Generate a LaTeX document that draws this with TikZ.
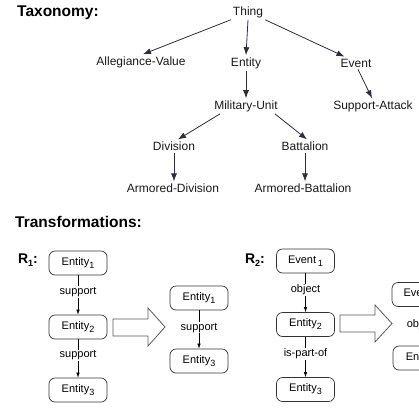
\documentclass[tikz,border=0pt]{standalone}
\usepackage{fontspec}
\setmainfont{Liberation Sans}
\usetikzlibrary{arrows.meta,calc}
\definecolor{tline}{RGB}{45,45,60}
\newcommand{\sbs}[1]{\raisebox{-3pt}{\fontsize{9}{9}\selectfont #1}}
\begin{document}
\begin{tikzpicture}[x=1pt,y=-1pt,
  title/.style={anchor=west,font=\fontsize{15.5}{16}\selectfont\bfseries,inner sep=0pt},
  tax/.style={font=\fontsize{12}{13}\selectfont,inner sep=2pt,text=black!90},
  tarr/.style={draw=tline,line width=0.8pt,-{Latex[length=8pt,width=6pt]}},
  box/.style={draw=black!80,rounded corners=6pt,minimum width=58pt,minimum height=24pt,
    inner sep=0pt,font=\fontsize{11}{12}\selectfont,line width=0.7pt},
  rel/.style={fill=white,inner sep=1pt,font=\fontsize{11}{12}\selectfont},
  sarr/.style={draw=black,line width=0.6pt,-{Latex[length=5pt,width=3.5pt]}},
  rlab/.style={font=\fontsize{14}{15}\selectfont\bfseries,inner sep=0pt},
  bigarr/.style={draw=black!65,fill=white,line width=0.8pt}]
\useasboundingbox (0,0) rectangle (419,407);
\clip (0,0) rectangle (419,407);
% Taxonomy
\node[title] (ttax) at (17,13) {Taxonomy:};
\node[tax] (thing) at (248,12) {Thing};
\node[tax] (av) at (141,62) {Allegiance-Value};
\node[tax] (entity) at (246,63) {Entity};
\node[tax] (event) at (356,63) {Event};
\node[tax] (mu) at (246,106) {Military-Unit};
\node[tax] (sa) at (373,106) {Support-Attack};
\node[tax] (div) at (174,146) {Division};
\node[tax] (bat) at (305,146) {Battalion};
\node[tax] (ad) at (173,188) {Armored-Division};
\node[tax] (ab) at (303,188) {Armored-Battalion};
\draw[tarr] (thing.south west) -- ([xshift=2pt]av.north);
\draw[tarr] (thing.south) -- (entity.north);
\draw[tarr] (thing.south east) -- ([xshift=6pt]event.north west);
\draw[tarr] ([xshift=2pt]event.south) -- ([xshift=-1pt]sa.north);
\draw[tarr] (entity.south) -- (mu.north);
\draw[tarr] ([xshift=8pt]mu.south west) -- ([xshift=4pt]div.north);
\draw[tarr] ([xshift=-5pt]mu.south east) -- ([xshift=2pt]bat.north);
\draw[tarr] (div.south) -- (div.south |- ad.north);
\draw[tarr] (bat.south) -- (bat.south |- ab.north);
% Transformations
\node[title] (ttr) at (15,222) {Transformations:};
% R1
\node[rlab] (r1) at (28,260) {R\sbs{1}:};
\node[box] (a1) at (78,263) {Entity\sbs{1}};
\node[box] (a2) at (78,327) {Entity\sbs{2}};
\node[box] (a3) at (78,390) {Entity\sbs{3}};
\draw[sarr] (a1) -- node[rel,pos=0.42] {support} (a2);
\draw[sarr] (a2) -- node[rel,pos=0.42] {support} (a3);
\draw[bigarr] (113,319) -- (148,319) -- (148,308) -- (165,327) -- (148,346) -- (148,336) -- (113,336) -- cycle;
\node[box] (b1) at (199,298) {Entity\sbs{1}};
\node[box] (b3) at (199,361) {Entity\sbs{3}};
\draw[sarr] (b1) -- node[rel,pos=0.45] {support} (b3);
% R2
\node[rlab] (r2) at (255,260) {R\sbs{2}:};
\node[box] (c1) at (305.5,261) {Event\,\sbs{1}};
\node[box] (c2) at (305.5,324.5) {Entity\sbs{2}};
\node[box] (c3) at (305.5,389.5) {Entity\sbs{3}};
\draw[sarr] (c1) -- node[rel,pos=0.42] {object} (c2);
\draw[sarr] (c2) -- node[rel,pos=0.42] {is-part-of} (c3);
\draw[bigarr] (340,315) -- (375,315) -- (375,305) -- (392,323.5) -- (375,342) -- (375,332) -- (340,332) -- cycle;
\node[box] (d1) at (421,294.5) {Event\,\sbs{1}};
\node[box] (d2) at (422,358) {Entity\sbs{2}};
\draw[sarr] (d1) -- node[rel,pos=0.45] {object} (d2);
\end{tikzpicture}
\end{document}
